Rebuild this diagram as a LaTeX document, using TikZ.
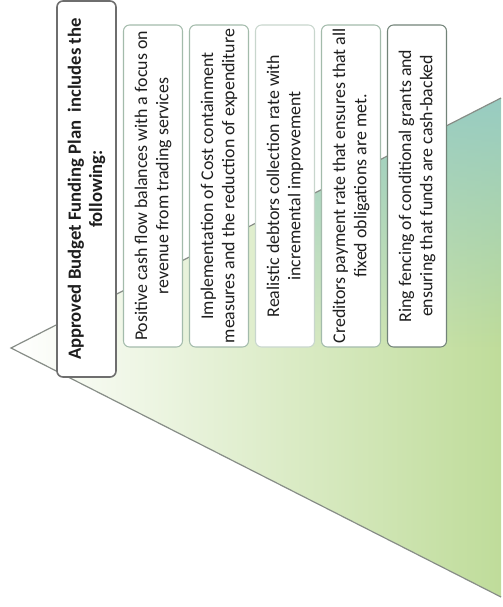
\documentclass[tikz,border=0pt]{standalone}
\usepackage{fontspec}
\setmainfont{Carlito}
\usetikzlibrary{fadings}

\definecolor{boxline}{HTML}{A3BBAB}
\definecolor{titleline}{HTML}{6E6E6E}
\definecolor{trigreen}{HTML}{BFDC9A}
\definecolor{triteal}{HTML}{98CCC2}
\definecolor{triedge}{HTML}{878D87}
\definecolor{labeltext}{HTML}{1E1E1E}

\tikzfading[name=fade teal, top color=transparent!0, bottom color=transparent!100]

\tikzset{
  listbox/.style={draw=boxline, line width=0.8pt, fill=white, rounded corners=4.5pt,
    rotate=90, text width=236pt, minimum height=44.25pt, inner xsep=2.75pt, inner ysep=2pt,
    align=flush center, text=labeltext, font=\fontsize{13.4}{16}\selectfont},
  titlebox/.style={listbox, draw=titleline, line width=1.2pt, text width=276.5pt,
    font=\bfseries\fontsize{14}{16}\selectfont}
}

\begin{document}
\begin{tikzpicture}[x=0.75pt, y=-0.75pt]
        \useasboundingbox (0,0) rectangle (503,607);
        \coordinate (apex) at (11,348);
        \coordinate (topend) at (501,98);
        \coordinate (botend) at (501,597);
        \shade[left color=white, middle color=trigreen!80, right color=trigreen]
          (apex) -- (topend) -- (botend) -- cycle;
        \begin{scope}
          \clip (apex) -- (topend) -- (botend) -- cycle;
          \fill[triteal, path fading=fade teal] (285,98) rectangle (501,347);
        \end{scope}
        \draw[triedge, line width=0.9pt] (topend) -- (apex) -- (botend);

        \node[titlebox] (plan) at (86.5,189) {Approved Budget Funding Plan\ \ includes the\\ following:};
        \node[listbox] (cashflow) at (153,186) {Positive cash flow balances with a focus on\\ revenue from trading services};
        \node[listbox] (costs) at (219,186) {Implementation of Cost containment\\ measures and the reduction of expenditure};
        \node[listbox, draw=boxline!60] (debtors) at (285,186) {Realistic debtors collection rate with\\ incremental improvement};
        \node[listbox] (creditors) at (351,186) {Creditors payment rate that ensures that all\\ fixed obligations are met.};
        \node[listbox, draw=boxline!70!black] (grants) at (417,186) {Ring fencing of conditional grants and\\ ensuring that funds are cash-backed};
      \end{tikzpicture}
\end{document}
